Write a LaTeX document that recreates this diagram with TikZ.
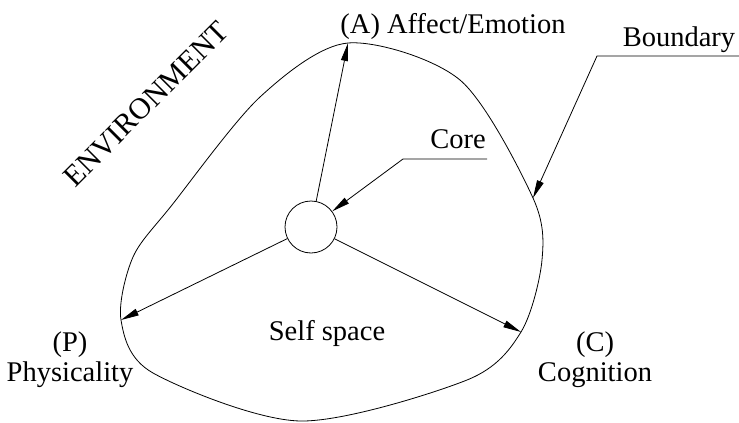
\documentclass[tikz,border=0pt]{standalone}
\usepackage{fontspec}
\setmainfont{Liberation Serif}
\usetikzlibrary{arrows.meta}

\begin{document}
\begin{tikzpicture}[
    x=1pt, y=-1pt,
    every node/.style={font=\fontsize{28.5}{30}\selectfont, inner sep=0pt},
    lbl/.style={align=center},
    core/.style={draw, circle, minimum size=52pt, line width=0.8pt},
    rim/.style={line width=0.8pt},
    arr/.style={-{Triangle[length=18pt, width=7pt]}, line width=0.8pt}
]
    \useasboundingbox (0,0) rectangle (739,423);

    % points where the arrows meet the boundary
    \coordinate (tipA) at (348,43);
    \coordinate (tipB) at (533,198);
    \coordinate (tipC) at (521,332);
    \coordinate (tipP) at (121,320);
    \draw[rim] plot[smooth cycle, tension=0.5] coordinates {(tipA) (460,80) (tipB) (542,260) (tipC) (467,380) (300,421) (153,373) (tipP) (133,257) (172,205) (260,97)};

    \node[core] (core) at (311,227) {};
    \draw[arr] (core) -- (tipA);
    \draw[arr] (core) -- (tipP);
    \draw[arr] (core) -- (tipC);

    \node[anchor=base] (affect) at (453,33) {(A) Affect/Emotion};
    \node[lbl] (phys) at (70,360) {(P)\\Physicality};
    \node[lbl] (cogn) at (595,360) {(C)\\Cognition};
    \node[anchor=base] (self) at (327,340) {Self space};
    \node[rotate=45, font=\fontsize{30}{32}\selectfont] (env) at (146,104) {ENVIRONMENT};
    \node[anchor=base] (corelbl) at (458,148) {Core};
    \node[anchor=base] (bndlbl) at (679,46) {Boundary};

    % leader lines
    \coordinate (cknee) at (403,159);
    \coordinate (cend) at (487,159);
    \draw[arr] (cend) -- (cknee) -- (core);
    \coordinate (bknee) at (597,56);
    \coordinate (bend) at (739,56);
    \draw[arr] (bend) -- (bknee) -- (tipB);
\end{tikzpicture}
\end{document}
